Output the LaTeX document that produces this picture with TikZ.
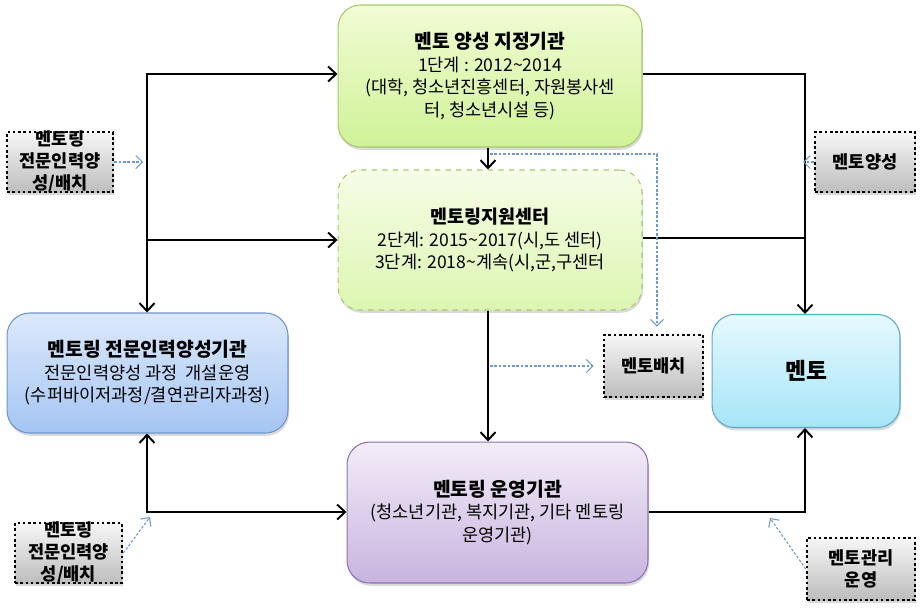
\documentclass[tikz,border=0pt]{standalone}
\usepackage{fontspec}
\setmainfont{Noto Sans CJK KR}
\usetikzlibrary{arrows.meta,shadows}

\definecolor{greenTop}{HTML}{F1FCD4}
\definecolor{greenBot}{HTML}{D0F298}
\definecolor{greenLine}{HTML}{A6C96A}
\definecolor{paleTop}{HTML}{F5FDE6}
\definecolor{paleBot}{HTML}{DDF6B2}
\definecolor{blueTop}{HTML}{DCE9FB}
\definecolor{blueBot}{HTML}{A5C5F3}
\definecolor{blueLine}{HTML}{6F96CF}
\definecolor{cyanTop}{HTML}{E6F9FE}
\definecolor{cyanBot}{HTML}{A6E5F7}
\definecolor{cyanLine}{HTML}{5FA8C4}
\definecolor{violetTop}{HTML}{F3ECF8}
\definecolor{violetBot}{HTML}{C8B4DF}
\definecolor{violetLine}{HTML}{8E72B3}
\definecolor{grayTop}{HTML}{F6F6F6}
\definecolor{grayBot}{HTML}{BDBDBD}
\definecolor{dotBlue}{HTML}{6E98CC}

\tikzset{
  box/.style={draw, rounded corners=0.45cm, line width=0.6pt, align=center, inner sep=0pt,
    font=\fontsize{10}{12.8}\selectfont,
    drop shadow={shadow xshift=0.6pt, shadow yshift=-1.6pt, opacity=0.3}},
  dotbox/.style={draw=black, line width=1.5pt, dash pattern=on 1.5pt off 1.5pt,
    top color=grayTop, bottom color=grayBot, inner sep=0pt,
    drop shadow={shadow xshift=0.6pt, shadow yshift=-1.6pt, opacity=0.3}},
  dottxt/.style={align=center, inner sep=0pt, font=\bfseries\fontsize{10}{12.5}\selectfont},
  blk/.style={line width=1.1pt, -{Straight Barb[length=1.6mm,width=3mm,line width=1.1pt]}},
  blkboth/.style={line width=1.1pt, {Straight Barb[length=1.6mm,width=3mm,line width=1.1pt]}-{Straight Barb[length=1.6mm,width=3mm,line width=1.1pt]}},
  blu/.style={draw=dotBlue, line width=0.6pt, dash pattern=on 1.5pt off 1pt, -{Straight Barb[length=1.3mm,width=2.6mm,line width=0.6pt]}},
}

\newcommand{\ttlfont}{\bfseries\fontsize{11}{14.5}\selectfont}

\begin{document}
\begin{tikzpicture}[x=0.02cm,y=-0.02cm]
\useasboundingbox (0,0) rectangle (922,610);

\node[box, top color=greenTop, bottom color=greenBot, draw=greenLine, minimum width=6.08cm, minimum height=2.84cm] (desig) at (490,76)
  {{\ttlfont 멘토 양성 지정기관}\\1단계 : 2012\textasciitilde{}2014\\(대학, 청소년진흥센터, 자원봉사센\\터, 청소년시설 등)};
\node[box, top color=paleTop, bottom color=paleBot, draw=greenLine, dashed, minimum width=6.08cm, minimum height=2.8cm] (center) at (490,240)
  {{\bfseries\fontsize{10.5}{14}\selectfont 멘토링지원센터}\\2단계: 2015\textasciitilde{}2017(시,도 센터)\\3단계: 2018\textasciitilde{}계속(시,군,구센터};
\node[box, top color=blueTop, bottom color=blueBot, draw=blueLine, minimum width=5.62cm, minimum height=2.4cm] (train) at (147.5,373)
  {{\ttlfont 멘토링 전문인력양성기관}\\전문인력양성 과정\ \ 개설운영\\(수퍼바이저과정/결연관리자과정)};
\node[box, top color=cyanTop, bottom color=cyanBot, draw=cyanLine, minimum width=3.76cm, minimum height=2.26cm] (mentor) at (806,371)
  {{\bfseries\fontsize{13}{15}\selectfont 멘토}};
\node[box, top color=violetTop, bottom color=violetBot, draw=violetLine, minimum width=6.02cm, minimum height=2.82cm] (oper) at (497.5,512.5)
  {{\ttlfont 멘토링 운영기관}\\(청소년기관, 복지기관, 기타 멘토링\\운영기관)};

\node[dotbox, minimum width=2.12cm, minimum height=1.2cm] (mk1) at (60,162) {};
\node[dotbox, minimum width=2.0cm, minimum height=1.2cm] (myang) at (865,162) {};
\node[dotbox, minimum width=1.98cm, minimum height=1.24cm] (mbaechi) at (653.5,366) {};
\node[dotbox, minimum width=2.14cm, minimum height=1.2cm] (mk2) at (68.5,553) {};
\node[dotbox, minimum width=2.16cm, minimum height=1.24cm] (mgwan) at (861,569) {};
\node[dottxt] (mk1t) at (mk1) {멘토링\\전문인력양\\성/배치};
\node[dottxt] (myangt) at (myang) {멘토양성};
\node[dottxt] (mbaechit) at (mbaechi) {멘토배치};
\node[dottxt] (mk2t) at (mk2) {멘토링\\전문인력양\\성/배치};
\node[dottxt] (mgwant) at (mgwan) {멘토관리\\운영};

\coordinate (lt) at (147,74);
\coordinate (lm) at (147,240);
\coordinate (lb) at (147,512);
\coordinate (rt) at (805,74);
\coordinate (rm) at (805,238);
\coordinate (rb) at (805,512);
\coordinate (dn) at (488,0);

\draw[blkboth] (lt -| desig.west) -- (lt) -- (lt |- train.north);
\draw[blk] (lm) -- (lm -| center.west);
\draw[blkboth] (lb |- train.south) -- (lb) -- (lb -| oper.west);
\draw[blk] (rt -| desig.east) -- (rt) -- (rt |- mentor.north);
\draw[line width=1.1pt] (rm -| center.east) -- (rm);
\draw[blk] (rb -| oper.east) -- (rb) -- (rb |- mentor.south);
\draw[blk] (dn |- desig.south) -- (dn |- center.north);
\draw[blk] (dn |- center.south) -- (dn |- oper.north);

\coordinate (d1) at (143,162);
\coordinate (d2) at (803,162);
\coordinate (d3) at (490,154);
\coordinate (d4) at (657,154);
\coordinate (d5) at (490,366);
\coordinate (d6) at (150,517);
\coordinate (d7) at (770,518);
\draw[blu] (mk1.east) -- (d1);
\draw[blu] (myang.west) -- (d2);
\draw[blu, shorten >=0.14cm] (d3) -- (d4) -- (d4 |- mbaechi.north);
\draw[blu, shorten >=0.18cm] (d5) -- (mbaechi.west);
\draw[blu] (mk2.east) -- (d6);
\draw[blu] (mgwan.west) -- (d7);
\end{tikzpicture}
\end{document}
